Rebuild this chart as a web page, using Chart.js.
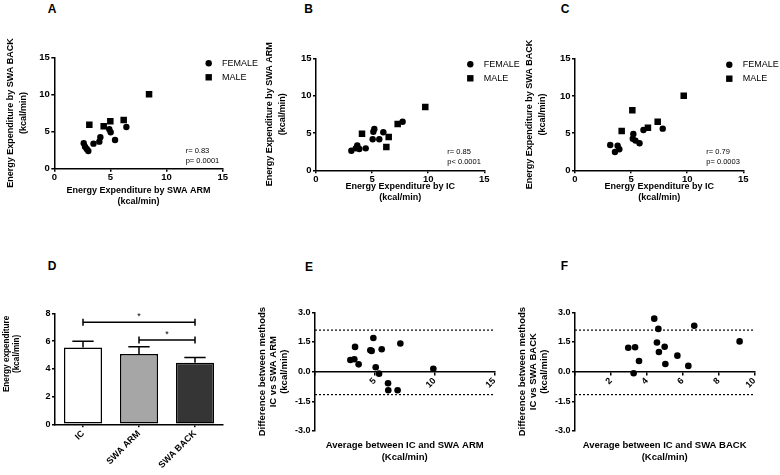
<!DOCTYPE html>
<html lang="en">
<head>
<meta charset="UTF-8">
<title>Energy expenditure: IC vs SWA</title>
<script src="https://cdn.jsdelivr.net/npm/chart.js"></script>
<style>
  body { margin: 0; background: #fff; }
  #wrap { position: relative; width: 780px; height: 475px; overflow: hidden; }
  canvas { position: absolute; }
  .lbl { position: absolute; font: bold 12px "Liberation Sans", Arial, sans-serif; line-height: 12px; color: #000; }
</style>
</head>
<body>
<div id="wrap">
  <div class="lbl" style="left:47.7px;top:2.5px">A</div>
  <div class="lbl" style="left:304.3px;top:2.5px">B</div>
  <div class="lbl" style="left:560.7px;top:2.5px">C</div>
  <div class="lbl" style="left:47.7px;top:260.1px">D</div>
  <div class="lbl" style="left:305px;top:260.7px">E</div>
  <div class="lbl" style="left:560.7px;top:260.1px">F</div>

  <canvas id="chartA" width="260" height="235" style="left:0;top:0;width:260px;height:235px"></canvas>
  <canvas id="chartB" width="260" height="235" style="left:260px;top:0;width:260px;height:235px"></canvas>
  <canvas id="chartC" width="260" height="235" style="left:520px;top:0;width:260px;height:235px"></canvas>
  <canvas id="chartD" width="260" height="240" style="left:0;top:235px;width:260px;height:240px"></canvas>
  <canvas id="chartE" width="260" height="240" style="left:250px;top:235px;width:260px;height:240px"></canvas>
  <canvas id="chartF" width="270" height="240" style="left:510px;top:235px;width:270px;height:240px"></canvas>
</div>
<script>
    // A: SWA ARM (x) vs SWA BACK (y)
    const femaleArmA  = [2.62, 2.74, 2.89, 3.03, 3.49, 4.01, 4.10, 4.90, 5.02, 5.41, 6.42];
    const femaleBackA = [3.42, 2.96, 2.65, 2.39, 3.37, 3.64, 4.23, 5.31, 4.90, 3.87, 5.62];
    const maleArmA    = [3.12, 4.40, 4.99, 6.18, 8.44];
    const maleBackA   = [5.93, 5.71, 6.39, 6.56, 10.03];
    const statsA = ['r= 0.83', 'p= 0.0001'];

    // B: IC (x) vs SWA ARM (y)
    const femaleIcB  = [3.15, 3.54, 3.68, 3.86, 4.43, 5.05, 5.11, 5.20, 5.64, 6.00, 7.72];
    const femaleArmB = [2.62, 2.94, 3.34, 2.85, 2.94, 4.15, 5.17, 5.53, 4.15, 5.09, 6.51];
    const maleIcB    = [4.10, 6.27, 6.48, 7.28, 9.74];
    const maleArmB   = [4.90, 3.12, 4.46, 6.20, 8.47];
    const statsB = ['r= 0.85', 'p< 0.0001'];

    // C: IC (x) vs SWA BACK (y)
    const femaleIcC   = [3.14, 3.56, 3.80, 3.95, 5.15, 5.20, 5.39, 5.75, 6.10, 7.82];
    const femaleBackC = [3.40, 2.46, 3.31, 2.82, 4.25, 4.88, 3.99, 3.63, 5.42, 5.60];
    const maleIcC     = [4.16, 5.11, 6.50, 7.37, 9.69];
    const maleBackC   = [5.28, 8.06, 5.73, 6.54, 10.03];
    const statsC = ['r= 0.79', 'p= 0.0003'];

    const sexLabels = ['FEMALE', 'MALE'];
    const scatterTicks = [0, 15, 5];   // min, max, step

    // D: mean energy expenditure per method
    const methods = ['IC', 'SWA ARM', 'SWA BACK'];
    const meanEE  = [5.55, 5.07, 4.45];
    const semEE   = [0.44, 0.53, 0.38];
    const bracketPairs  = [[0, 2], [1, 2]];
    const bracketLevels = [7.36, 6.08];
    const bracketMarks  = ['*', '*'];

    // E: Bland-Altman IC vs SWA ARM
    const avgArm  = [2.96, 3.29, 3.35, 3.65, 4.63, 4.74, 4.88, 5.08, 5.36, 5.58, 6.11, 6.13, 6.91, 7.14, 9.90];
    const diffArm = [0.59, 0.63, 1.25, 0.37, 1.08, 1.05, 1.70, 0.22, -0.10, 1.13, -0.59, -0.94, -0.94, 1.42, 0.15];
    const limitsArm = [2.10, -1.16];
    const xRangeE = [0, 15, 5];

    // F: Bland-Altman IC vs SWA BACK
    const avgBack  = [2.97, 3.35, 3.27, 3.57, 4.42, 4.65, 4.57, 4.68, 5.00, 5.04, 5.71, 6.32, 6.65, 9.18];
    const diffBack = [1.21, 1.23, -0.08, 0.54, 2.68, 2.16, 1.47, 0.99, 1.26, 0.39, 0.81, 0.29, 2.32, 1.53];
    const limitsBack = [2.10, -1.16];
    const xRangeF = [0, 10, 2];

    const diffRange = [-3, 3, 1.5];

    const FONT = '"Liberation Sans", Arial, sans-serif';
    Chart.defaults.font.family = FONT;
    Chart.defaults.color = '#000';

    const border = { color: '#000', width: 1.5 };
    const grid = { drawOnChartArea: false, color: '#000', lineWidth: 1.5, tickLength: 3 };

    const pts = (xs, ys) => xs.map((v, i) => ({ x: v, y: ys[i] }));

    // legend drawn in the top right corner of the plot
    const sexLegend = {
        id: 'sexLegend',
        afterDraw(chart) {
            const { ctx, chartArea } = chart;
            ctx.save();
            ctx.fillStyle = '#000';
            ctx.font = '9px ' + FONT;
            ctx.textBaseline = 'middle';
            chart.data.datasets.forEach((ds, i) => {
                const x = chartArea.right - 14, y = chartArea.top + 6 + i * 14;
                ctx.beginPath();
                if (ds.pointStyle === 'rect') ctx.rect(x - 3.2, y - 3.2, 6.4, 6.4);
                else ctx.arc(x, y, 3.2, 0, Math.PI * 2);
                ctx.fill();
                ctx.fillText(ds.label, x + 13.4, y);
            });
            ctx.restore();
        }
    };

    function statsText(lines) {
        return {
            id: 'stats',
            afterDraw(chart) {
                const { ctx, chartArea } = chart;
                ctx.save();
                ctx.fillStyle = '#000';
                ctx.font = '7.5px ' + FONT;
                ctx.textBaseline = 'middle';
                lines.forEach((t, i) => ctx.fillText(t, chartArea.right - 37, chartArea.bottom - 18 + i * 10));
                ctx.restore();
            }
        };
    }

    function scatterPanel(id, fx, fy, mx, my, xTitle, yTitle, stats, g) {
        const canvas = document.getElementById(id);
        const H = canvas.height, W = canvas.width;
        return new Chart(canvas, {
            type: 'scatter',
            data: {
                datasets: [
                    { label: sexLabels[0], data: pts(fx, fy), pointStyle: 'circle', pointRadius: 3.2, backgroundColor: '#000', borderWidth: 0 },
                    { label: sexLabels[1], data: pts(mx, my), pointStyle: 'rect', pointRadius: 4.6, backgroundColor: '#000', borderWidth: 0 }
                ]
            },
            options: {
                responsive: false,
                animation: false,
                events: [],
                layout: { padding: { left: 0, top: g.t, right: W - g.r, bottom: 0 } },
                plugins: { legend: { display: false }, tooltip: { enabled: false } },
                scales: {
                    x: {
                        min: scatterTicks[0], max: scatterTicks[1],
                        ticks: { stepSize: scatterTicks[2], padding: 0, font: { size: 9.5, weight: 'bold' } },
                        border, grid,
                        title: { display: true, text: xTitle, font: { size: 9, weight: 'bold', lineHeight: '10.5px' }, padding: { top: 0, bottom: g.xpb } },
                        afterFit: s => { s.height = H - g.b; }
                    },
                    y: {
                        min: scatterTicks[0], max: scatterTicks[1],
                        ticks: { stepSize: scatterTicks[2], padding: 1.5, font: { size: 9.5, weight: 'bold' } },
                        border, grid,
                        title: { display: true, text: yTitle, font: { size: 9, weight: 'bold', lineHeight: g.ylh + 'px' }, padding: { top: g.ypad, bottom: 0 } },
                        afterFit: s => { s.width = g.l; }
                    }
                }
            },
            plugins: [sexLegend, statsText(stats)]
        });
    }

    scatterPanel('chartA', femaleArmA, femaleBackA, maleArmA, maleBackA,
        ['Energy Expenditure by SWA ARM', '(kcal/min)'], ['Energy Expenditure by SWA BACK', '(kcal/min)'], statsA,
        { l: 54.3, t: 57.3, r: 222.7, b: 168.7, xpb: 28.25, ylh: 12.6, ypad: 4.4 });

    scatterPanel('chartB', femaleIcB, femaleArmB, maleIcB, maleArmB,
        ['Energy Expenditure by IC', '(kcal/min)'], ['Energy Expenditure by SWA ARM', '(kcal/min)'], statsB,
        { l: 56, t: 58.3, r: 224.3, b: 170.3, xpb: 32.5, ylh: 13, ypad: 3.5 });

    scatterPanel('chartC', femaleIcC, femaleBackC, maleIcC, maleBackC,
        ['Energy Expenditure by IC', '(kcal/min)'], ['Energy Expenditure by SWA BACK', '(kcal/min)'], statsC,
        { l: 55, t: 58.7, r: 223.3, b: 170.3, xpb: 32.5, ylh: 13, ypad: 3.5 });

    // D: bar chart with error bars and significance brackets
    const errorBars = {
        id: 'errorBars',
        afterDatasetsDraw(chart) {
            const { ctx } = chart;
            const bars = chart.getDatasetMeta(0).data;
            const y = chart.scales.y;
            ctx.save();
            ctx.strokeStyle = '#000';
            ctx.lineWidth = 1.5;
            bars.forEach((bar, i) => {
                const top = y.getPixelForValue(meanEE[i] + semEE[i]);
                const half = bar.width * 0.28;
                ctx.beginPath();
                ctx.moveTo(bar.x, bar.y);
                ctx.lineTo(bar.x, top);
                ctx.moveTo(bar.x - half, top);
                ctx.lineTo(bar.x + half, top);
                ctx.stroke();
            });
            ctx.restore();
        }
    };

    const brackets = {
        id: 'brackets',
        afterDatasetsDraw(chart) {
            const { ctx } = chart;
            const bars = chart.getDatasetMeta(0).data;
            const y = chart.scales.y;
            ctx.save();
            ctx.strokeStyle = '#000';
            ctx.fillStyle = '#000';
            ctx.lineWidth = 1.5;
            ctx.font = '9px ' + FONT;
            ctx.textAlign = 'center';
            ctx.textBaseline = 'alphabetic';
            bracketPairs.forEach(([a, b], i) => {
                const x1 = bars[a].x, x2 = bars[b].x;
                const py = y.getPixelForValue(bracketLevels[i]);
                ctx.beginPath();
                ctx.moveTo(x1, py); ctx.lineTo(x2, py);
                ctx.moveTo(x1, py - 3.5); ctx.lineTo(x1, py + 3.5);
                ctx.moveTo(x2, py - 3.5); ctx.lineTo(x2, py + 3.5);
                ctx.stroke();
                ctx.fillText(bracketMarks[i], (x1 + x2) / 2, py - 3);
            });
            ctx.restore();
        }
    };

    const yTitleD = {
        id: 'yTitleD',
        afterDraw(chart) {
            const { ctx, chartArea } = chart;
            const cy = (chartArea.top + chartArea.bottom) / 2 - 15;
            ctx.save();
            ctx.fillStyle = '#000';
            ctx.font = 'bold 8.2px ' + FONT;
            ctx.textAlign = 'center';
            ctx.textBaseline = 'middle';
            ['Energy expenditure', '(kcal/min)'].forEach((t, i) => {
                ctx.save();
                ctx.translate(7 + i * 10, cy);
                ctx.rotate(-Math.PI / 2);
                ctx.fillText(t, 0, 0);
                ctx.restore();
            });
            ctx.restore();
        }
    };

    const canvasD = document.getElementById('chartD');
    new Chart(canvasD, {
        type: 'bar',
        data: {
            labels: methods,
            datasets: [{
                data: meanEE,
                backgroundColor: ['#ffffff', '#a6a6a6', '#353535'],
                borderColor: '#000',
                borderWidth: 1.5,
                borderSkipped: false,
                categoryPercentage: 1,
                barPercentage: 0.68
            }]
        },
        options: {
            responsive: false,
            animation: false,
            events: [],
            layout: { padding: { left: 0, top: 78.5, right: 260 - 223, bottom: 0 } },
            plugins: { legend: { display: false }, tooltip: { enabled: false } },
            scales: {
                x: {
                    ticks: { minRotation: 45, maxRotation: 45, autoSkip: false, padding: 1, font: { size: 9, weight: 'bold' } },
                    border, grid: { ...grid, offset: false },
                    afterFit: s => { s.height = 240 - 189.3; }
                },
                y: {
                    min: 0, max: 8,
                    ticks: { stepSize: 2, padding: 1.5, font: { size: 9, weight: 'bold' } },
                    border, grid,
                    afterFit: s => { s.width = 55; }
                }
            }
        },
        plugins: [errorBars, brackets, yTitleD]
    });

    // E, F: Bland-Altman plots
    function blandAltman(id, xs, ys, limits, xr, xTitle, yTitle) {
        const canvas = document.getElementById(id);
        const H = canvas.height, W = canvas.width;
        const g = { l: 65, t: 77.3, r: 244.3, b: 196 };
        const limitSets = limits.map(v => ({
            data: [{ x: xr[0], y: v }, { x: xr[1], y: v }],
            showLine: true, pointRadius: 0, borderColor: '#000', borderWidth: 1.2, borderDash: [2, 2]
        }));
        return new Chart(canvas, {
            type: 'scatter',
            data: {
                datasets: [
                    { data: pts(xs, ys), pointRadius: 3.3, backgroundColor: '#000', borderWidth: 0 },
                    ...limitSets
                ]
            },
            options: {
                responsive: false,
                animation: false,
                events: [],
                layout: { padding: { left: 0, top: g.t, right: W - g.r, bottom: 0 } },
                plugins: { legend: { display: false }, tooltip: { enabled: false } },
                scales: {
                    x: {
                        min: xr[0], max: xr[1],
                        border: { display: false }, grid: { display: false }, ticks: { display: false },
                        title: { display: true, text: xTitle, font: { size: 9.5, weight: 'bold', lineHeight: '11.3px' }, padding: { top: 0, bottom: 12.35 } },
                        afterFit: s => { s.height = H - g.b; }
                    },
                    x2: {
                        type: 'linear', axis: 'x', position: { y: 0 },
                        min: xr[0], max: xr[1],
                        ticks: {
                            stepSize: xr[2], minRotation: 45, maxRotation: 45, autoSkip: false, padding: 1,
                            font: { size: 9, weight: 'bold' },
                            callback: v => (v === 0 ? '' : v)
                        },
                        border, grid
                    },
                    y: {
                        min: diffRange[0], max: diffRange[1],
                        ticks: { stepSize: diffRange[2], padding: 1.5, font: { size: 9, weight: 'bold' }, callback: v => v.toFixed(1) },
                        border, grid,
                        title: { display: true, text: yTitle, font: { size: 9.5, weight: 'bold', lineHeight: '10.7px' }, padding: { top: 7.35, bottom: 0 } },
                        afterFit: s => { s.width = g.l; }
                    }
                }
            }
        });
    }

    blandAltman('chartE', avgArm, diffArm, limitsArm, xRangeE,
        ['Average between IC and SWA ARM', '(Kcal/min)'],
        ['Difference between methods', 'IC vs SWA ARM', '(kcal/min)']);

    blandAltman('chartF', avgBack, diffBack, limitsBack, xRangeF,
        ['Average between IC and SWA BACK', '(Kcal/min)'],
        ['Difference between methods', 'IC vs SWA BACK', '(kcal/min)']);
</script>
</body>
</html>
